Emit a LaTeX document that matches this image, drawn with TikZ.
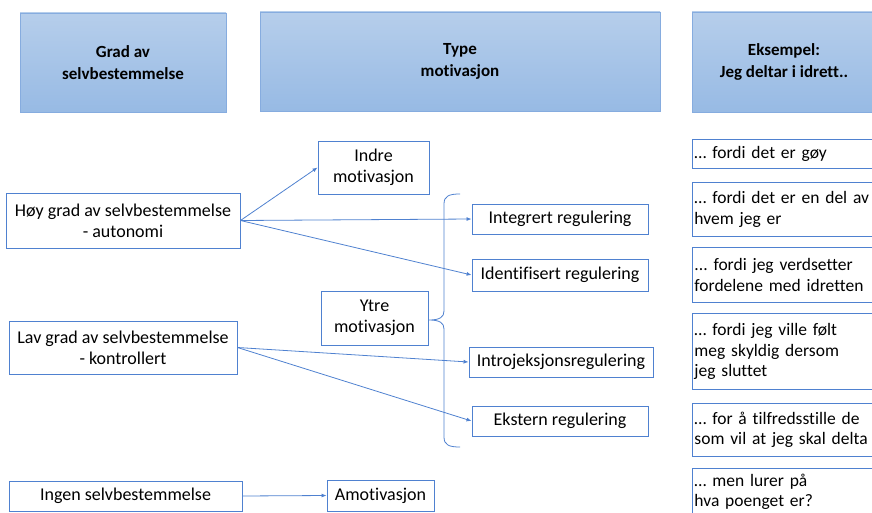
\documentclass[tikz,border=0pt]{standalone}
\usepackage{fontspec}
\setmainfont{Carlito}[Ligatures=NoCommon]
\usetikzlibrary{arrows.meta}
\definecolor{boxblue}{HTML}{4F81D0}
\definecolor{hdrtop}{HTML}{B6CEEB}
\definecolor{hdrbot}{HTML}{97BAE4}
\definecolor{hdrline}{HTML}{86ACDF}
\tikzset{
  hdr/.style={draw=hdrline, line width=0.8pt, top color=hdrtop, bottom color=hdrbot, font=\fontsize{17}{22}\selectfont\bfseries, align=center, inner sep=0pt},
  box/.style={draw=boxblue, line width=0.9pt, fill=white, align=center, inner sep=0pt, font=\fontsize{18}{21}\selectfont},
  ex/.style={draw=boxblue, line width=0.9pt, anchor=north west, align=left, minimum width=185pt, text width=181pt, inner xsep=2pt, inner ysep=0pt, font=\fontsize{17.5}{20.5}\selectfont},
  arr/.style={draw=boxblue, line width=0.8pt, -{Latex[length=5pt,width=4pt]}},
  brace/.style={draw=boxblue, line width=0.8pt}
}
\begin{document}
\frenchspacing
\begin{tikzpicture}[x=1pt,y=-1pt]
\useasboundingbox (0,0) rectangle (872,513);
% headers
\node[hdr, minimum width=206pt, minimum height=99pt] (h1) at (123,62.5) {Grad av\\selvbestemmelse};
\node[hdr, minimum width=400pt, minimum height=99pt] (h2) at (460,61.5) {Type\\motivasjon};
\node[hdr, minimum width=184pt, minimum height=100pt] (h3) at (784,62) {Eksempel:\\Jeg deltar i idrett..};
% left column
\node[box, minimum width=234pt, minimum height=55pt] (hoy) at (123,220.5) {Høy grad av selvbestemmelse\\- autonomi};
\node[box, minimum width=228pt, minimum height=53pt] (lav) at (123,347.5) {Lav grad av selvbestemmelse\\- kontrollert};
\node[box, minimum width=233pt, minimum height=30pt] (ingen) at (125.5,496) {Ingen selvbestemmelse};
% middle
\node[box, minimum width=111pt, minimum height=53pt] (indre) at (373.5,167.5) {Indre\\motivasjon};
\node[box, minimum width=107pt, minimum height=54pt] (ytre) at (374.5,318) {Ytre\\motivasjon};
\node[box, minimum width=107pt, minimum height=31pt] (amot) at (380.5,495.5) {Amotivasjon};
% regulations
\node[box, minimum width=176pt, minimum height=30pt] (integ) at (560,219) {Integrert regulering};
\node[box, minimum width=176pt, minimum height=32pt] (ident) at (560,275) {Identifisert regulering};
\node[box, minimum width=184pt, minimum height=30pt] (intro) at (561,362) {Introjeksjonsregulering};
\node[box, minimum width=176pt, minimum height=30pt] (ekst) at (560,421) {Ekstern regulering};
% brace
\coordinate (btip) at (429,320);
\draw[brace] (460,194) .. controls (449,194) and (444,196) .. (444,204) -- (444,311)
  .. controls (444,317) and (440,320) .. (btip)
  .. controls (440,320) and (444,323) .. (444,329) -- (444,437)
  .. controls (444,445) and (449,447) .. (460,447);
% examples
\node[ex, minimum height=29pt] (e1) at (692,139) {… fordi det er gøy};
\node[ex, minimum height=54pt] (e2) at (692,182) {… fordi det er en del av\\hvem jeg er};
\node[ex, minimum height=55pt] (e3) at (692,247) {... fordi jeg verdsetter\\fordelene med idretten};
\node[ex, minimum height=76pt] (e4) at (692,313) {… fordi jeg ville følt\\meg skyldig dersom\\jeg sluttet};
\node[ex, minimum height=53pt] (e5) at (692,403) {… for å tilfredsstille de\\som vil at jeg skal delta};
\node[ex, minimum height=47pt] (e6) at (692,468) {… men lurer på\\hva poenget er?};
% arrows
\draw[arr] (hoy.east) -- (indre.west);
\draw[arr] (hoy.east) -- (integ.west);
\draw[arr] (hoy.east) -- (ident.west);
\draw[arr] (lav.east) -- (intro.west);
\draw[arr] (lav.east) -- (ekst.west);
\draw[arr] (ingen.east) -- (amot.west);
\end{tikzpicture}
\end{document}
